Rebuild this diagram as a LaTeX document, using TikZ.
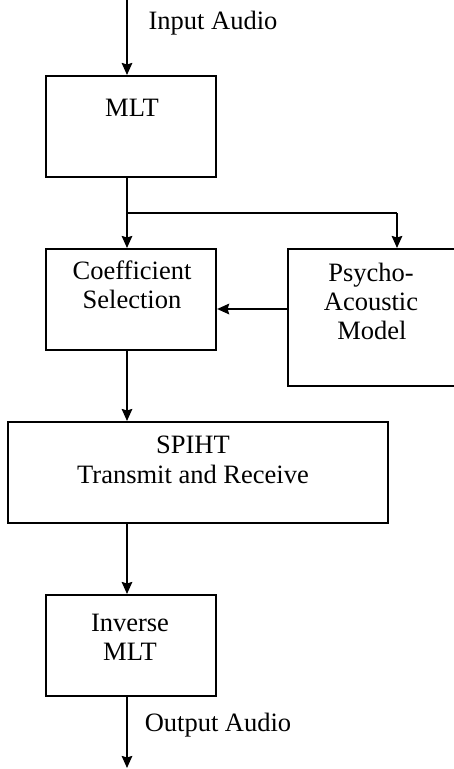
\documentclass[tikz,border=0pt]{standalone}
\usepackage{fontspec}
\setmainfont{Liberation Serif}
\usetikzlibrary{arrows.meta}
\begin{document}
\begin{tikzpicture}[x=1pt,y=-1pt,
  box/.style={draw, line width=2.1pt, inner sep=0pt, minimum width=#1, anchor=north west},
  lbl/.style={font=\fontsize{26.5}{29.5}\selectfont, inner sep=0pt, anchor=base},
  conn/.style={line width=2.1pt, -{Stealth[length=12pt,width=10.5pt,inset=1.5pt]}},
  wire/.style={line width=2.1pt}]
\useasboundingbox (0,0) rectangle (454,769);
% boxes
\node[box=170pt, minimum height=101pt] (mlt) at (45,75) {};
\node[box=170pt, minimum height=101pt] (coef) at (45,248) {};
\node[box=180pt, minimum height=137pt] (psy) at (287,248) {};
\node[box=380pt, minimum height=101pt] (spiht) at (7,421) {};
\node[box=170pt, minimum height=101pt] (imlt) at (45,594) {};
% texts
\node[lbl] (tin) at (213,29) {Input Audio};
\node[lbl] (tmlt) at (132,116) {MLT};
\node[lbl] (tcoef1) at (132,279) {Coefficient};
\node[lbl] (tcoef2) at (132,308) {Selection};
\node[lbl] (tpsy1) at (371,281) {Psycho-};
\node[lbl] (tpsy2) at (371,310) {Acoustic};
\node[lbl] (tpsy3) at (372,339) {Model};
\node[lbl] (tsp1) at (193,453) {SPIHT};
\node[lbl] (tsp2) at (193,483) {Transmit and Receive};
\node[lbl] (tinv1) at (130,631) {Inverse};
\node[lbl] (tinv2) at (130,660) {MLT};
\node[lbl] (tout) at (218,731) {Output Audio};
% connectors
\coordinate (top) at (127,0);
\coordinate (split) at (127,213);
\coordinate (corner) at (397,213);
\coordinate (bottom) at (127,768);
\draw[conn] (top) -- (mlt.north -| top);
\draw[wire] (mlt.south -| top) -- (split);
\draw[conn] (split) -- (coef.north -| split);
\draw[wire] (split) -- (corner);
\draw[conn] (corner) -- (psy.north -| corner);
\draw[conn] (psy.west |- 0,309) -- (coef.east |- 0,309);
\draw[conn] (coef.south -| top) -- (spiht.north -| top);
\draw[conn] (spiht.south -| top) -- (imlt.north -| top);
\draw[conn] (imlt.south -| top) -- (bottom);
\end{tikzpicture}
\end{document}
